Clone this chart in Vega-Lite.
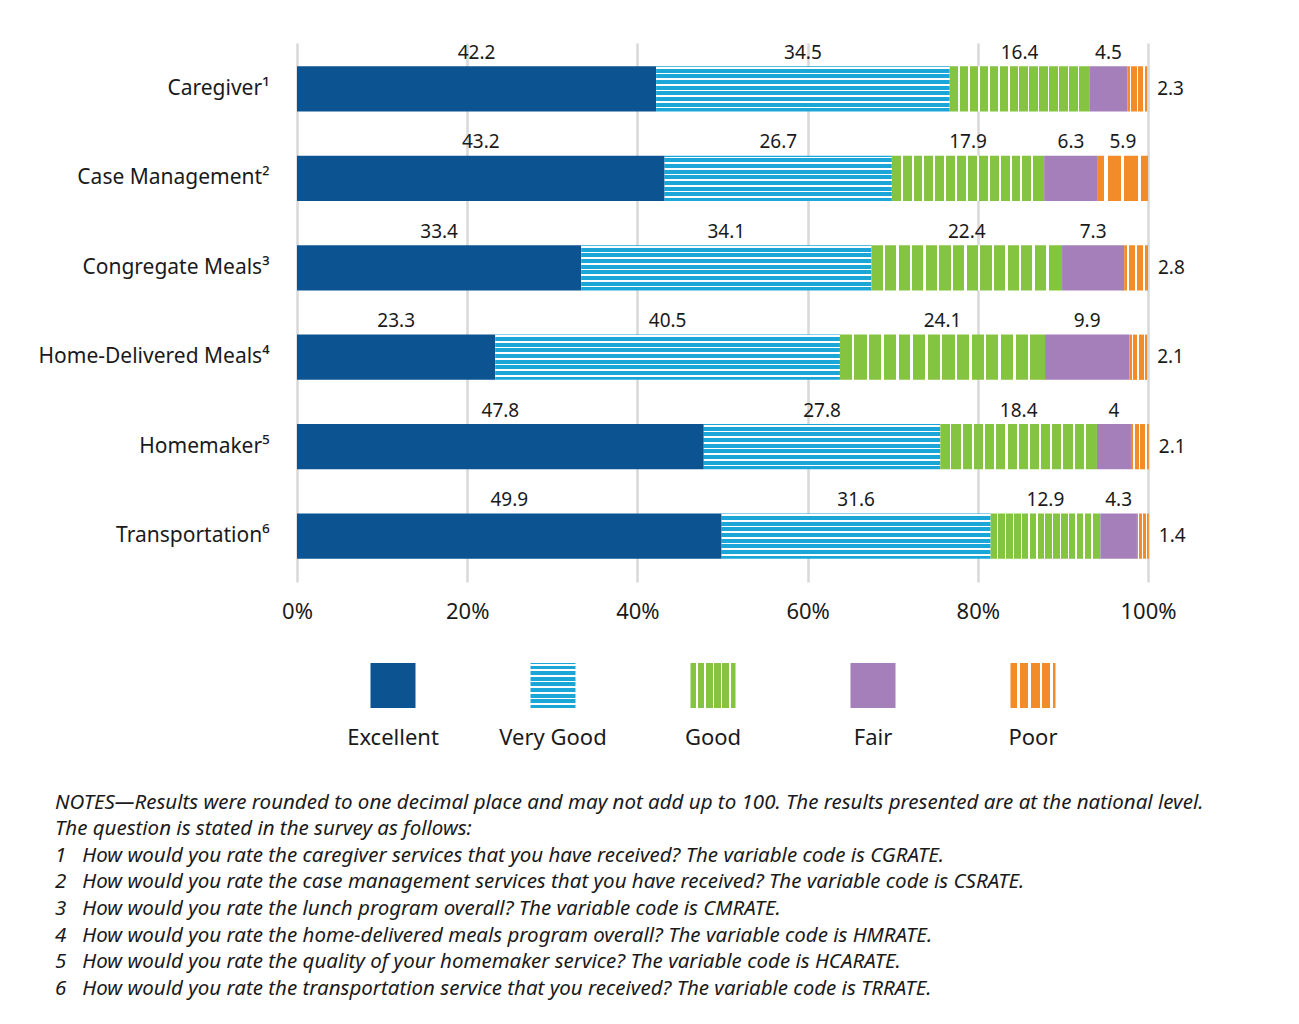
{
  "$schema": "https://vega.github.io/schema/vega-lite/v6.json",
  "padding": {"left": 38, "top": 43, "right": 10, "bottom": 10},
  "config": {"font": "Noto Sans", "view": {"stroke": null}},
  "datasets": {
    "ratings": [
      {"service": "Caregiver¹", "rating": "Excellent", "order": 1, "value": 42.2},
      {"service": "Caregiver¹", "rating": "Very Good", "order": 2, "value": 34.5},
      {"service": "Caregiver¹", "rating": "Good", "order": 3, "value": 16.4},
      {"service": "Caregiver¹", "rating": "Fair", "order": 4, "value": 4.5},
      {"service": "Caregiver¹", "rating": "Poor", "order": 5, "value": 2.3},
      {"service": "Case Management²", "rating": "Excellent", "order": 1, "value": 43.2},
      {"service": "Case Management²", "rating": "Very Good", "order": 2, "value": 26.7},
      {"service": "Case Management²", "rating": "Good", "order": 3, "value": 17.9},
      {"service": "Case Management²", "rating": "Fair", "order": 4, "value": 6.3},
      {"service": "Case Management²", "rating": "Poor", "order": 5, "value": 5.9},
      {"service": "Congregate Meals³", "rating": "Excellent", "order": 1, "value": 33.4},
      {"service": "Congregate Meals³", "rating": "Very Good", "order": 2, "value": 34.1},
      {"service": "Congregate Meals³", "rating": "Good", "order": 3, "value": 22.4},
      {"service": "Congregate Meals³", "rating": "Fair", "order": 4, "value": 7.3},
      {"service": "Congregate Meals³", "rating": "Poor", "order": 5, "value": 2.8},
      {"service": "Home-Delivered Meals⁴", "rating": "Excellent", "order": 1, "value": 23.3},
      {"service": "Home-Delivered Meals⁴", "rating": "Very Good", "order": 2, "value": 40.5},
      {"service": "Home-Delivered Meals⁴", "rating": "Good", "order": 3, "value": 24.1},
      {"service": "Home-Delivered Meals⁴", "rating": "Fair", "order": 4, "value": 9.9},
      {"service": "Home-Delivered Meals⁴", "rating": "Poor", "order": 5, "value": 2.1},
      {"service": "Homemaker⁵", "rating": "Excellent", "order": 1, "value": 47.8},
      {"service": "Homemaker⁵", "rating": "Very Good", "order": 2, "value": 27.8},
      {"service": "Homemaker⁵", "rating": "Good", "order": 3, "value": 18.4},
      {"service": "Homemaker⁵", "rating": "Fair", "order": 4, "value": 4},
      {"service": "Homemaker⁵", "rating": "Poor", "order": 5, "value": 2.1},
      {"service": "Transportation⁶", "rating": "Excellent", "order": 1, "value": 49.9},
      {"service": "Transportation⁶", "rating": "Very Good", "order": 2, "value": 31.6},
      {"service": "Transportation⁶", "rating": "Good", "order": 3, "value": 12.9},
      {"service": "Transportation⁶", "rating": "Fair", "order": 4, "value": 4.3},
      {"service": "Transportation⁶", "rating": "Poor", "order": 5, "value": 1.4}
    ],
    "legend": [
      {"rating": "Excellent", "order": 1},
      {"rating": "Very Good", "order": 2},
      {"rating": "Good", "order": 3},
      {"rating": "Fair", "order": 4},
      {"rating": "Poor", "order": 5}
    ]
  },
  "title": {
    "text": [
      "NOTES—Results were rounded to one decimal place and may not add up to 100. The results presented are at the national level.",
      "The question is stated in the survey as follows:",
      "1\u00a0\u00a0 How would you rate the caregiver services that you have received? The variable code is CGRATE.",
      "2\u00a0\u00a0 How would you rate the case management services that you have received? The variable code is CSRATE.",
      "3\u00a0\u00a0 How would you rate the lunch program overall? The variable code is CMRATE.",
      "4\u00a0\u00a0 How would you rate the home-delivered meals program overall? The variable code is HMRATE.",
      "5\u00a0\u00a0 How would you rate the quality of your homemaker service? The variable code is HCARATE.",
      "6\u00a0\u00a0 How would you rate the transportation service that you received? The variable code is TRRATE."
    ],
    "orient": "bottom",
    "anchor": "start",
    "frame": "bounds",
    "offset": 44,
    "dx": 17,
    "fontSize": 20.5,
    "fontStyle": "italic",
    "fontWeight": "normal",
    "lineHeight": 26.6,
    "color": "#1a1a1a"
  },
  "bounds": "flush",
  "spacing": 81,
  "vconcat": [
    {
      "width": 851,
      "height": 539,
      "data": {"name": "ratings"},
      "encoding": {
        "y": {
          "field": "service",
          "type": "nominal",
          "sort": ["Caregiver¹", "Case Management²", "Congregate Meals³", "Home-Delivered Meals⁴", "Homemaker⁵", "Transportation⁶"],
          "scale": {"paddingInner": 0.494, "paddingOuter": 0.26},
          "axis": {"title": null, "domain": false, "ticks": false, "labelFontSize": 21, "labelPadding": 28, "labelColor": "#1a1a1a", "labelLimit": 400}
        }
      },
      "layer": [
        {
          "transform": [
            {"stack": "value", "groupby": ["service"], "sort": [{"field": "order", "order": "ascending"}], "as": ["x0", "x1"]}
          ],
          "mark": {"type": "bar"},
          "encoding": {
            "x": {
              "field": "x0",
              "type": "quantitative",
              "scale": {"domain": [0, 100], "nice": false},
              "axis": {"title": null, "domain": false, "ticks": false, "grid": true, "gridColor": "#d9d9d9", "gridWidth": 2.5, "values": [0, 20, 40, 60, 80, 100], "labelExpr": "datum.value + '%'", "labelFlush": false, "labelFontSize": 22, "labelPadding": 19, "labelColor": "#1a1a1a"}
            },
            "x2": {"field": "x1"},
            "fill": {
              "condition": [
                {
                  "test": "datum.rating === 'Very Good'",
                  "value": {
                    "gradient": "linear", "x1": 0, "y1": 0, "x2": 0, "y2": 1,
                    "stops": [
                      {"offset": 0, "color": "#1AA7D8"},
                      {"offset": 0.019, "color": "#1AA7D8"}, {"offset": 0.019, "color": "#ffffff"}, {"offset": 0.056, "color": "#ffffff"}, {"offset": 0.056, "color": "#1AA7D8"},
                      {"offset": 0.144, "color": "#1AA7D8"}, {"offset": 0.144, "color": "#ffffff"}, {"offset": 0.181, "color": "#ffffff"}, {"offset": 0.181, "color": "#1AA7D8"},
                      {"offset": 0.269, "color": "#1AA7D8"}, {"offset": 0.269, "color": "#ffffff"}, {"offset": 0.306, "color": "#ffffff"}, {"offset": 0.306, "color": "#1AA7D8"},
                      {"offset": 0.394, "color": "#1AA7D8"}, {"offset": 0.394, "color": "#ffffff"}, {"offset": 0.431, "color": "#ffffff"}, {"offset": 0.431, "color": "#1AA7D8"},
                      {"offset": 0.519, "color": "#1AA7D8"}, {"offset": 0.519, "color": "#ffffff"}, {"offset": 0.556, "color": "#ffffff"}, {"offset": 0.556, "color": "#1AA7D8"},
                      {"offset": 0.644, "color": "#1AA7D8"}, {"offset": 0.644, "color": "#ffffff"}, {"offset": 0.681, "color": "#ffffff"}, {"offset": 0.681, "color": "#1AA7D8"},
                      {"offset": 0.769, "color": "#1AA7D8"}, {"offset": 0.769, "color": "#ffffff"}, {"offset": 0.806, "color": "#ffffff"}, {"offset": 0.806, "color": "#1AA7D8"},
                      {"offset": 0.894, "color": "#1AA7D8"}, {"offset": 0.894, "color": "#ffffff"}, {"offset": 0.931, "color": "#ffffff"}, {"offset": 0.931, "color": "#1AA7D8"},
                      {"offset": 1, "color": "#1AA7D8"}
                    ]
                  }
                },
                {
                  "test": "datum.rating === 'Good'",
                  "value": {
                    "gradient": "linear", "x1": 0, "y1": 0, "x2": 1, "y2": 0,
                    "stops": [
                      {"offset": 0, "color": "#84C441"},
                      {"offset": 0.059, "color": "#84C441"}, {"offset": 0.059, "color": "#ffffff"}, {"offset": 0.071, "color": "#ffffff"}, {"offset": 0.071, "color": "#84C441"},
                      {"offset": 0.130, "color": "#84C441"}, {"offset": 0.130, "color": "#ffffff"}, {"offset": 0.143, "color": "#ffffff"}, {"offset": 0.143, "color": "#84C441"},
                      {"offset": 0.201, "color": "#84C441"}, {"offset": 0.201, "color": "#ffffff"}, {"offset": 0.214, "color": "#ffffff"}, {"offset": 0.214, "color": "#84C441"},
                      {"offset": 0.273, "color": "#84C441"}, {"offset": 0.273, "color": "#ffffff"}, {"offset": 0.286, "color": "#ffffff"}, {"offset": 0.286, "color": "#84C441"},
                      {"offset": 0.344, "color": "#84C441"}, {"offset": 0.344, "color": "#ffffff"}, {"offset": 0.357, "color": "#ffffff"}, {"offset": 0.357, "color": "#84C441"},
                      {"offset": 0.416, "color": "#84C441"}, {"offset": 0.416, "color": "#ffffff"}, {"offset": 0.429, "color": "#ffffff"}, {"offset": 0.429, "color": "#84C441"},
                      {"offset": 0.487, "color": "#84C441"}, {"offset": 0.487, "color": "#ffffff"}, {"offset": 0.500, "color": "#ffffff"}, {"offset": 0.500, "color": "#84C441"},
                      {"offset": 0.559, "color": "#84C441"}, {"offset": 0.559, "color": "#ffffff"}, {"offset": 0.571, "color": "#ffffff"}, {"offset": 0.571, "color": "#84C441"},
                      {"offset": 0.630, "color": "#84C441"}, {"offset": 0.630, "color": "#ffffff"}, {"offset": 0.643, "color": "#ffffff"}, {"offset": 0.643, "color": "#84C441"},
                      {"offset": 0.701, "color": "#84C441"}, {"offset": 0.701, "color": "#ffffff"}, {"offset": 0.714, "color": "#ffffff"}, {"offset": 0.714, "color": "#84C441"},
                      {"offset": 0.773, "color": "#84C441"}, {"offset": 0.773, "color": "#ffffff"}, {"offset": 0.786, "color": "#ffffff"}, {"offset": 0.786, "color": "#84C441"},
                      {"offset": 0.844, "color": "#84C441"}, {"offset": 0.844, "color": "#ffffff"}, {"offset": 0.857, "color": "#ffffff"}, {"offset": 0.857, "color": "#84C441"},
                      {"offset": 0.916, "color": "#84C441"}, {"offset": 0.916, "color": "#ffffff"}, {"offset": 0.929, "color": "#ffffff"}, {"offset": 0.929, "color": "#84C441"},
                      {"offset": 1, "color": "#84C441"}
                    ]
                  }
                },
                {"test": "datum.rating === 'Fair'", "value": "#A57FBA"},
                {
                  "test": "datum.rating === 'Poor'",
                  "value": {
                    "gradient": "linear", "x1": 0, "y1": 0, "x2": 1, "y2": 0,
                    "stops": [
                      {"offset": 0, "color": "#F28C28"},
                      {"offset": 0.13, "color": "#F28C28"}, {"offset": 0.13, "color": "#ffffff"}, {"offset": 0.2, "color": "#ffffff"}, {"offset": 0.2, "color": "#F28C28"},
                      {"offset": 0.46, "color": "#F28C28"}, {"offset": 0.46, "color": "#ffffff"}, {"offset": 0.53, "color": "#ffffff"}, {"offset": 0.53, "color": "#F28C28"},
                      {"offset": 0.8, "color": "#F28C28"}, {"offset": 0.8, "color": "#ffffff"}, {"offset": 0.87, "color": "#ffffff"}, {"offset": 0.87, "color": "#F28C28"},
                      {"offset": 1, "color": "#F28C28"}
                    ]
                  }
                }
              ],
              "value": "#0B5391"
            }
          }
        },
        {
          "mark": {"type": "text", "dy": -36, "fontSize": 19, "color": "#1a1a1a", "baseline": "middle"},
          "encoding": {
            "x": {"field": "value", "type": "quantitative", "stack": "zero", "bandPosition": 0.5},
            "detail": {"field": "rating", "type": "nominal"},
            "order": {"field": "order", "type": "quantitative"},
            "text": {"condition": {"test": "datum.rating === 'Poor' && datum.value < 3", "value": ""}, "field": "value", "type": "nominal"}
          }
        },
        {
          "transform": [
            {"stack": "value", "groupby": ["service"], "sort": [{"field": "order", "order": "ascending"}], "as": ["x0", "x1"]},
            {"filter": "datum.rating === 'Poor' && datum.value < 3"}
          ],
          "mark": {"type": "text", "align": "left", "dx": 10, "fontSize": 19, "color": "#1a1a1a", "baseline": "middle"},
          "encoding": {
            "x": {"field": "x1", "type": "quantitative"},
            "text": {"field": "value", "type": "nominal"}
          }
        }
      ]
    },
    {
      "width": 832,
      "height": 45,
      "data": {"name": "legend"},
      "encoding": {
        "x": {
          "field": "rating",
          "type": "nominal",
          "sort": ["Excellent", "Very Good", "Good", "Fair", "Poor"],
          "scale": {"paddingInner": 0, "paddingOuter": 0.1},
          "axis": null
        }
      },
      "layer": [
        {
          "mark": {"type": "bar", "width": 45},
          "encoding": {
            "fill": {
              "condition": [
                {
                  "test": "datum.rating === 'Very Good'",
                  "value": {
                    "gradient": "linear", "x1": 0, "y1": 0, "x2": 0, "y2": 1,
                    "stops": [
                      {"offset": 0, "color": "#1AA7D8"},
                      {"offset": 0.019, "color": "#1AA7D8"}, {"offset": 0.019, "color": "#ffffff"}, {"offset": 0.056, "color": "#ffffff"}, {"offset": 0.056, "color": "#1AA7D8"},
                      {"offset": 0.144, "color": "#1AA7D8"}, {"offset": 0.144, "color": "#ffffff"}, {"offset": 0.181, "color": "#ffffff"}, {"offset": 0.181, "color": "#1AA7D8"},
                      {"offset": 0.269, "color": "#1AA7D8"}, {"offset": 0.269, "color": "#ffffff"}, {"offset": 0.306, "color": "#ffffff"}, {"offset": 0.306, "color": "#1AA7D8"},
                      {"offset": 0.394, "color": "#1AA7D8"}, {"offset": 0.394, "color": "#ffffff"}, {"offset": 0.431, "color": "#ffffff"}, {"offset": 0.431, "color": "#1AA7D8"},
                      {"offset": 0.519, "color": "#1AA7D8"}, {"offset": 0.519, "color": "#ffffff"}, {"offset": 0.556, "color": "#ffffff"}, {"offset": 0.556, "color": "#1AA7D8"},
                      {"offset": 0.644, "color": "#1AA7D8"}, {"offset": 0.644, "color": "#ffffff"}, {"offset": 0.681, "color": "#ffffff"}, {"offset": 0.681, "color": "#1AA7D8"},
                      {"offset": 0.769, "color": "#1AA7D8"}, {"offset": 0.769, "color": "#ffffff"}, {"offset": 0.806, "color": "#ffffff"}, {"offset": 0.806, "color": "#1AA7D8"},
                      {"offset": 0.894, "color": "#1AA7D8"}, {"offset": 0.894, "color": "#ffffff"}, {"offset": 0.931, "color": "#ffffff"}, {"offset": 0.931, "color": "#1AA7D8"},
                      {"offset": 1, "color": "#1AA7D8"}
                    ]
                  }
                },
                {
                  "test": "datum.rating === 'Good'",
                  "value": {
                    "gradient": "linear", "x1": 0, "y1": 0, "x2": 1, "y2": 0,
                    "stops": [
                      {"offset": 0, "color": "#84C441"},
                      {"offset": 0.13, "color": "#84C441"}, {"offset": 0.13, "color": "#ffffff"}, {"offset": 0.17, "color": "#ffffff"}, {"offset": 0.17, "color": "#84C441"},
                      {"offset": 0.31, "color": "#84C441"}, {"offset": 0.31, "color": "#ffffff"}, {"offset": 0.35, "color": "#ffffff"}, {"offset": 0.35, "color": "#84C441"},
                      {"offset": 0.49, "color": "#84C441"}, {"offset": 0.49, "color": "#ffffff"}, {"offset": 0.53, "color": "#ffffff"}, {"offset": 0.53, "color": "#84C441"},
                      {"offset": 0.67, "color": "#84C441"}, {"offset": 0.67, "color": "#ffffff"}, {"offset": 0.71, "color": "#ffffff"}, {"offset": 0.71, "color": "#84C441"},
                      {"offset": 0.85, "color": "#84C441"}, {"offset": 0.85, "color": "#ffffff"}, {"offset": 0.89, "color": "#ffffff"}, {"offset": 0.89, "color": "#84C441"},
                      {"offset": 1, "color": "#84C441"}
                    ]
                  }
                },
                {"test": "datum.rating === 'Fair'", "value": "#A57FBA"},
                {
                  "test": "datum.rating === 'Poor'",
                  "value": {
                    "gradient": "linear", "x1": 0, "y1": 0, "x2": 1, "y2": 0,
                    "stops": [
                      {"offset": 0, "color": "#F28C28"},
                      {"offset": 0.15, "color": "#F28C28"}, {"offset": 0.15, "color": "#ffffff"}, {"offset": 0.21, "color": "#ffffff"}, {"offset": 0.21, "color": "#F28C28"},
                      {"offset": 0.4, "color": "#F28C28"}, {"offset": 0.4, "color": "#ffffff"}, {"offset": 0.46, "color": "#ffffff"}, {"offset": 0.46, "color": "#F28C28"},
                      {"offset": 0.65, "color": "#F28C28"}, {"offset": 0.65, "color": "#ffffff"}, {"offset": 0.71, "color": "#ffffff"}, {"offset": 0.71, "color": "#F28C28"},
                      {"offset": 0.88, "color": "#F28C28"}, {"offset": 0.88, "color": "#ffffff"}, {"offset": 0.94, "color": "#ffffff"}, {"offset": 0.94, "color": "#F28C28"},
                      {"offset": 1, "color": "#F28C28"}
                    ]
                  }
                }
              ],
              "value": "#0B5391"
            }
          }
        },
        {
          "mark": {"type": "text", "dy": 52, "fontSize": 22, "color": "#1a1a1a", "baseline": "middle"},
          "encoding": {"text": {"field": "rating", "type": "nominal"}}
        }
      ]
    }
  ]
}
